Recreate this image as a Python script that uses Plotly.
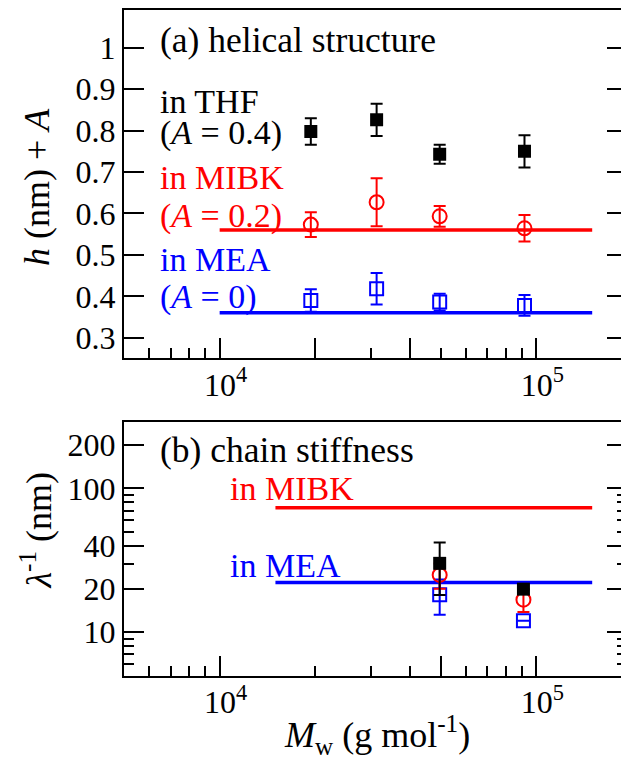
import plotly.graph_objects as go

# ---- data: top panel (h + A) ----
mw_top = [1.94e4, 3.13e4, 4.95e4, 9.17e4]
thf_h = [0.798, 0.826, 0.743, 0.750]
thf_h_err = [0.032, 0.039, 0.023, 0.039]
mibk_h = [0.573, 0.627, 0.593, 0.564]
mibk_h_err = [0.030, 0.058, 0.025, 0.032]
mea_h = [0.390, 0.418, 0.386, 0.378]
mea_h_err = [0.027, 0.038, 0.020, 0.025]
line_x = [1.0e4, 1.5e5]
mibk_h_line = [0.560, 0.560]
mea_h_line = [0.360, 0.360]

# ---- data: bottom panel (lambda^-1) ----
mw_bot = [4.95e4, 9.1e4]
thf_l = [30.1, 19.9]
thf_l_err = [12.0, 0.0]
mibk_l = [25.0, 16.8]
mibk_l_err = [5.0, 3.0]
mea_l = [18.2, 12.0]
mea_l_err = [5.0, 0.0]
line_x_bot = [1.5e4, 1.5e5]
mibk_l_line = [73.3, 73.3]
mea_l_line = [22.1, 22.1]

# ---- ticks ----
top_y_ticks = [0.3, 0.4, 0.5, 0.6, 0.7, 0.8, 0.9, 1.0]
top_y_text = ["0.3", "0.4", "0.5", "0.6", "0.7", "0.8", "0.9", "1"]
bot_y_ticks = [10, 20, 40, 100, 200]
bot_y_text = ["10", "20", "40", "100", "200"]
bot_y_minor = [6, 7, 8, 9, 30, 50, 60, 70, 80, 90]
top_x_major = [1e4, 2e4, 4e4, 1e5]
top_x_text = ["10<sup>4</sup>", "", "", "10<sup>5</sup>"]
top_x_minor = [6e3, 7e3, 8e3, 9e3, 3e4, 5e4, 6e4, 7e4, 8e4, 9e4]
bot_x_major = [1e4, 5e4, 1e5]
bot_x_text = ["10<sup>4</sup>", "", "10<sup>5</sup>"]
bot_x_minor = [6e3, 7e3, 8e3, 9e3, 2e4, 3e4, 4e4, 6e4, 7e4, 8e4, 9e4]

RED = "#ff0000"
BLUE = "#0000ff"
BLACK = "#000000"
FONT = "Liberation Serif"
FS_TICK = 32
FS_PANEL = 35.5
FS_LEG = 34
FS_TITLE = 36

fig = go.Figure()

def err(arr, color):
    return dict(type="data", array=arr, color=color, thickness=2, width=6, visible=True)

# top panel
fig.add_trace(go.Scatter(x=line_x, y=mibk_h_line, mode="lines", line=dict(color=RED, width=3.5),
                         xaxis="x", yaxis="y", showlegend=False))
fig.add_trace(go.Scatter(x=line_x, y=mea_h_line, mode="lines", line=dict(color=BLUE, width=3.5),
                         xaxis="x", yaxis="y", showlegend=False))
fig.add_trace(go.Scatter(x=mw_top, y=mea_h, mode="markers", error_y=err(mea_h_err, BLUE),
                         marker=dict(symbol="square-open", size=13, color=BLUE, line=dict(width=2, color=BLUE)),
                         xaxis="x", yaxis="y", showlegend=False))
fig.add_trace(go.Scatter(x=mw_top, y=mibk_h, mode="markers", error_y=err(mibk_h_err, RED),
                         marker=dict(symbol="circle-open", size=14, color=RED, line=dict(width=2, color=RED)),
                         xaxis="x", yaxis="y", showlegend=False))
fig.add_trace(go.Scatter(x=mw_top, y=thf_h, mode="markers", error_y=err(thf_h_err, BLACK),
                         marker=dict(symbol="square", size=13, color=BLACK, line=dict(width=0)),
                         xaxis="x", yaxis="y", showlegend=False))

# bottom panel
fig.add_trace(go.Scatter(x=line_x_bot, y=mibk_l_line, mode="lines", line=dict(color=RED, width=3.5),
                         xaxis="x2", yaxis="y2", showlegend=False))
fig.add_trace(go.Scatter(x=line_x_bot, y=mea_l_line, mode="lines", line=dict(color=BLUE, width=3.5),
                         xaxis="x2", yaxis="y2", showlegend=False))
fig.add_trace(go.Scatter(x=mw_bot, y=mea_l, mode="markers", error_y=err(mea_l_err, BLUE),
                         marker=dict(symbol="square-open", size=13, color=BLUE, line=dict(width=2, color=BLUE)),
                         xaxis="x2", yaxis="y2", showlegend=False))
fig.add_trace(go.Scatter(x=mw_bot, y=mibk_l, mode="markers", error_y=err(mibk_l_err, RED),
                         marker=dict(symbol="circle-open", size=14, color=RED, line=dict(width=2, color=RED)),
                         xaxis="x2", yaxis="y2", showlegend=False))
fig.add_trace(go.Scatter(x=mw_bot, y=thf_l, mode="markers", error_y=err(thf_l_err, BLACK),
                         marker=dict(symbol="square", size=13, color=BLACK, line=dict(width=0)),
                         xaxis="x2", yaxis="y2", showlegend=False))

xr = [3.698, 5.286]
axis_common = dict(showline=True, linecolor=BLACK, linewidth=2, ticks="inside", ticklen=20,
                   tickwidth=2, tickcolor=BLACK, showgrid=False, zeroline=False,
                   tickfont=dict(family=FONT, size=FS_TICK, color=BLACK))
minor_common = dict(tickmode="array", ticks="inside", ticklen=10, tickwidth=2,
                    tickcolor=BLACK, showgrid=False)
xlab = dict(ticklabelshift=6, ticklabelstandoff=-3)

# the page body has an 8px margin, so the figure is drawn 8px smaller and offset
fig.update_layout(
    width=621, height=750,
    margin=dict(l=116, r=0, t=1, b=82),
    paper_bgcolor="white", plot_bgcolor="white",
    font=dict(family=FONT, size=FS_TICK, color=BLACK),
    xaxis=dict(type="log", range=xr, anchor="y", mirror=True,
               tickmode="array", tickvals=top_x_major, ticktext=top_x_text,
               minor=dict(tickvals=top_x_minor, **minor_common), **xlab, **axis_common),
    yaxis=dict(range=[0.25, 1.091], domain=[0.4768, 1.0], anchor="x", mirror="ticks",
               tickmode="array", tickvals=top_y_ticks, ticktext=top_y_text, **axis_common),
    xaxis2=dict(type="log", range=xr, anchor="y2", mirror=True,
                tickmode="array", tickvals=bot_x_major, ticktext=bot_x_text,
                minor=dict(tickvals=bot_x_minor, **minor_common), **xlab, **axis_common),
    yaxis2=dict(type="log", range=[0.694, 2.4625], domain=[0.0, 0.3813], anchor="x2", mirror="ticks",
                tickmode="array", tickvals=bot_y_ticks, ticktext=bot_y_text,
                minor=dict(tickvals=bot_y_minor, **minor_common), **axis_common),
)

PW = 505.0   # plot width in px
PH = 667.0   # plot height in px

def note(text, px, py, color=BLACK, size=FS_LEG, xanchor="left", **kw):
    # px, py: reference pixel position (page coords)
    x = (px - 124) / PW
    y = (676 - py) / PH
    fig.add_annotation(text=text, x=x, y=y, xref="paper", yref="paper", showarrow=False,
                       xanchor=xanchor, yanchor="middle",
                       font=dict(family=FONT, size=size, color=color), **kw)

note("(a) helical structure", 158, 39, size=FS_PANEL)
note("in THF", 158, 101)
note("(<i>A</i> = 0.4)", 158, 132)
note("in MIBK", 158, 177, RED)
note("(<i>A</i> = 0.2)", 158, 215, RED)
note("in MEA", 158, 259, BLUE)
note("(<i>A</i> = 0)", 158, 296, BLUE)
note("(b) chain stiffness", 158, 450, size=FS_PANEL)
note("in MIBK", 228, 488, RED)
note("in MEA", 228, 565, BLUE)
note("<i>h</i> (nm) + <i>A</i>", 36, 186, size=FS_TITLE, xanchor="center", textangle=-90)
note("<i>λ</i><sup>-1</sup> (nm)", 36, 530, size=FS_TITLE, xanchor="center", textangle=-90)
note("<i>M</i><sub>w</sub> (g mol<sup>-1</sup>)", 378, 735, size=FS_TITLE, xanchor="center")

fig.write_html("out.html")
